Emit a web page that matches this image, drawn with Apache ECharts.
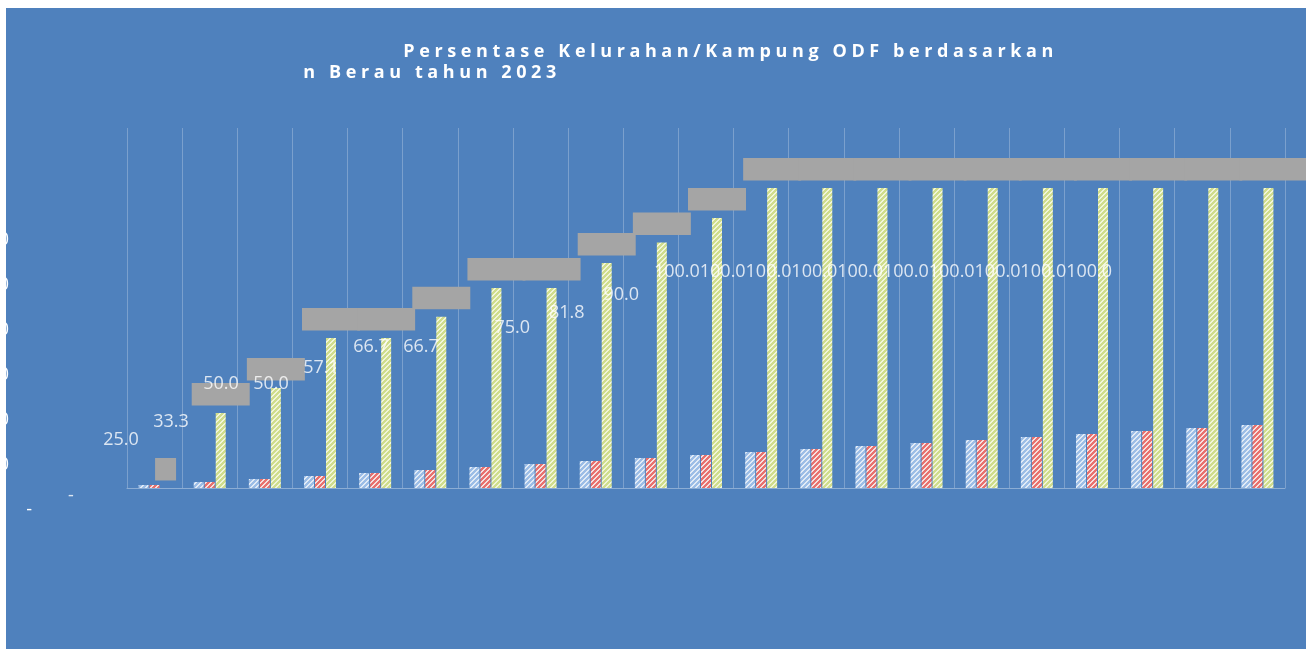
<!DOCTYPE html>
<html>
<head>
<meta charset="utf-8">
<script src="https://cdn.jsdelivr.net/npm/echarts@6/dist/echarts.min.js"></script>
<style>
  html, body { margin: 0; background: #fff; }
  #chart { position: absolute; left: 6px; top: 8px; width: 1300px; height: 641px; }
</style>
</head>
<body>
<div id="chart"></div>
<script>
const categories = ['1', '2', '3', '4', '5', '6', '7', '8', '9', '10', '11', '12', '13', '14', '15', '16', '17', '18', '19', '20', '21'];
const blueValues = [1, 2, 3, 4, 5, 6, 7, 8, 9, 10, 11, 12, 13, 14, 15, 16, 17, 18, 19, 20, 21];
const redValues = [1, 2, 3, 4, 5, 6, 7, 8, 9, 10, 11, 12, 13, 14, 15, 16, 17, 18, 19, 20, 21];
const greenValues = [0, 25, 33.3, 50, 50, 57.1, 66.7, 66.7, 75, 81.8, 90, 100, 100, 100, 100, 100, 100, 100, 100, 100, 100];
const axisLabels = ['-', '20.0', '40.0', '60.0', '80.0', '100.0', '120.0'];
const titleLines = ['Persentase Kelurahan/Kampung ODF berdasarkan', 'n Berau tahun 2023'];

// the value labels sit in squeezed rows, not over their bars
const labelGroups = [[0, 8], [8, 11], [11, 21]];
const labelRows = [
  { left: 40, width: 400 },
  { left: 479, width: 163.5 },
  { left: 648, width: 458 },
];

const FONT = 'Open Sans';
const GRID_LINE = 'rgba(255,255,255,0.25)';

function hatch(fg, bg) {
  const n = 5;
  const c = document.createElement('canvas');
  c.width = n;
  c.height = n;
  const ctx = c.getContext('2d');
  ctx.fillStyle = bg;
  ctx.fillRect(0, 0, n, n);
  ctx.fillStyle = fg;
  for (let x = 0; x < n; x++) {
    for (let y = 0; y < n; y++) {
      if ((x + y) % n < 3) ctx.fillRect(x, y, 1, 1);
    }
  }
  return { image: c, repeat: 'repeat' };
}

function spaced(line) {
  return line.split('').map((ch) => `{c|${ch}}`).join('');
}

function titleStyle() {
  return {
    rich: {
      c: { fontFamily: FONT, fontSize: 18, fontWeight: 'bold', color: '#fff', padding: [0, 2.3], lineHeight: 20 },
    },
  };
}

function barSeries(data, fg, bg) {
  return {
    type: 'bar',
    xAxisIndex: 0,
    yAxisIndex: 0,
    data,
    barWidth: 10,
    barGap: '10%',
    z: 3,
    silent: true,
    itemStyle: { color: hatch(fg, bg) },
  };
}

function renderBox(params, api) {
  const idx = api.value(0);
  const v = api.value(1);
  const cx = api.coord([idx, v])[0] + 11;
  const yTop = api.coord([idx, v + 10])[1];
  const yBottom = api.coord([idx, v + 2.5])[1];
  const w = v === 0 ? 21 : 58;
  const x0 = cx - w / 2;
  const x1 = idx === greenValues.length - 1 ? api.getWidth() : cx + w / 2;
  return {
    type: 'rect',
    shape: { x: x0, y: yTop, width: x1 - x0, height: yBottom - yTop },
    style: { fill: '#a5a5a5' },
  };
}

const chart = echarts.init(document.getElementById('chart'));

chart.setOption({
  animation: false,
  backgroundColor: '#4f81bd',
  title: [
    { text: spaced(titleLines[0]), left: 395, top: 34, padding: 0, textStyle: titleStyle() },
    { text: spaced(titleLines[1]), left: 295, top: 55, padding: 0, textStyle: titleStyle() },
  ],
  grid: [
    { left: 121, top: 120, width: 1158, height: 360, containLabel: false, outerBoundsMode: 'none' },
    { left: 34, top: 232, width: 10, height: 270, containLabel: false, outerBoundsMode: 'none' },
    ...labelRows.map((r) => ({ left: r.left, width: r.width, top: 264, height: 224, containLabel: false, outerBoundsMode: 'none' })),
  ],
  xAxis: [
    {
      gridIndex: 0,
      type: 'category',
      data: categories,
      axisLabel: { show: false },
      axisTick: { show: false },
      axisLine: { lineStyle: { color: 'rgba(255,255,255,0.35)' } },
      splitLine: { show: true, lineStyle: { color: GRID_LINE, width: 1 } },
    },
    { gridIndex: 1, type: 'value', show: false },
    ...labelGroups.map(([a, b], k) => ({ gridIndex: k + 2, type: 'category', data: categories.slice(a, b), show: false })),
  ],
  yAxis: [
    { gridIndex: 0, type: 'value', min: 0, max: 120, show: false },
    {
      gridIndex: 1,
      type: 'category',
      data: axisLabels,
      boundaryGap: false,
      axisLine: { show: false },
      axisTick: { show: false },
      splitLine: { show: false },
      axisLabel: {
        margin: 8,
        color: '#fff',
        fontFamily: FONT,
        fontSize: 18,
        formatter: (s) => (s === '-' ? s : `{n|${s}}{g| }`),
        rich: {
          n: { color: '#fff', fontFamily: FONT, fontSize: 18 },
          g: { width: 23, fontSize: 18 },
        },
      },
    },
    ...labelGroups.map((g, k) => ({ gridIndex: k + 2, type: 'value', min: 0, max: 100, show: false })),
  ],
  series: [
    barSeries(blueValues, '#9cbde6', '#e2ebf6'),
    barSeries(redValues, '#e8716e', '#f6e0df'),
    barSeries(greenValues, '#cfdd8c', '#f1f5da'),
    {
      type: 'custom',
      xAxisIndex: 0,
      yAxisIndex: 0,
      z: 1,
      silent: true,
      renderItem: renderBox,
      data: greenValues.map((v, i) => [i, v]),
    },
    ...labelGroups.map(([a, b], k) => ({
      type: 'scatter',
      xAxisIndex: k + 2,
      yAxisIndex: k + 2,
      data: greenValues.slice(a, b),
      symbolSize: 0,
      z: 4,
      silent: true,
      label: {
        show: true,
        position: 'inside',
        color: '#fff',
        fontFamily: FONT,
        fontSize: 18,
        formatter: (p) => (p.value === 0 ? '-' : p.value.toFixed(1)),
      },
    })),
  ],
});
</script>
</body>
</html>
